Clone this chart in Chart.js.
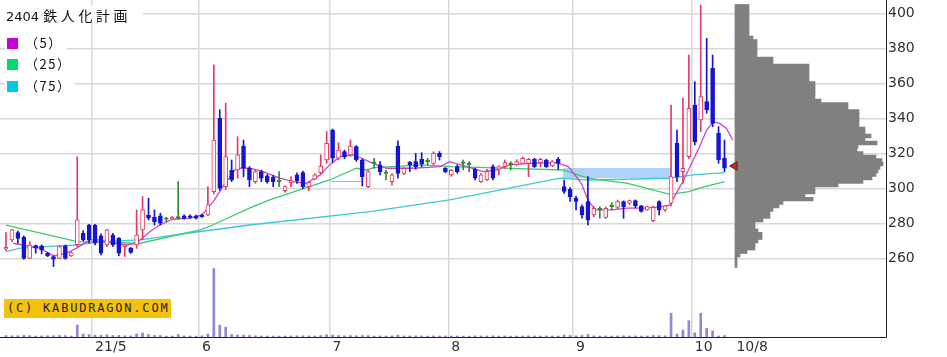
<!DOCTYPE html>
<html>
<head>
<meta charset="UTF-8" />
<script src="https://cdn.jsdelivr.net/npm/chart.js"></script>
<style>
  html, body { margin: 0; padding: 0; background: #fff; }
  #wrap { position: relative; width: 947px; height: 357px; }
  canvas { display: block; }
  .title { position: absolute; left: 0; top: 5px; width: 137px; height: 17px; padding-left: 6px;
           background: #fff; font: 13px 'DejaVu Sans', 'Noto Sans CJK JP', sans-serif; line-height: 17px; color: #111; }
  .title .jp { font: 14px 'Noto Sans CJK JP', sans-serif; letter-spacing: 3.6px; }
  .leg { position: absolute; left: 5px; height: 15px; padding: 0 3px 0 2px; background: #fff;
         font: 13px 'Noto Sans CJK JP', sans-serif; line-height: 15px; color: #111; letter-spacing: 1.5px; }
  .leg i { display: inline-block; width: 11px; height: 11px; vertical-align: -1px; margin-right: 7px; }
  .badge { position: absolute; left: 4px; top: 299px; height: 19px; padding: 0 2px 0 3px; background: #f4c20d;
           font: 12px 'DejaVu Sans Mono', monospace; letter-spacing: 1.8px; line-height: 19px; color: #222; }
</style>
</head>
<body>
<div id="wrap">
  <canvas id="chart" width="947" height="357"></canvas>
  <div class="title">2404 <span class="jp">鉄人化計画</span></div>
  <div class="leg" style="top:35px"><i style="background:#c800dc"></i>（5）</div>
  <div class="leg" style="top:56px"><i style="background:#00dc6e"></i>（25）</div>
  <div class="leg" style="top:78px"><i style="background:#00c8e6"></i>（75）</div>
  <div class="badge">(C) KABUDRAGON.COM</div>
</div>
<script>
// daily candles, 2021/4/9 .. 2021/10/8 (index = trading day)
const openP = [
  265.4, 270.7, 274.9, 272.2, 260.2, 267.5, 267.3, 263.1, 261.2, 260.2,
  267.3, 261.6, 268.0, 274.5, 279.2, 279.2, 273.0, 267.8, 273.5, 271.6,
  266.9, 265.9, 267.8, 276.4, 284.9, 283.6, 284.4, 282.5, 282.8, 283.1,
  284.4, 284.4, 284.4, 284.9, 285.0, 298.2, 340.1, 301.1, 310.6, 310.6,
  324.3, 311.6, 304.0, 309.7, 307.2, 306.6, 304.0, 298.8, 303.4, 307.8,
  309.1, 301.1, 305.3, 309.1, 316.3, 333.4, 317.3, 321.1, 319.2, 323.9,
  316.3, 301.1, 314.4, 313.5, 308.7, 304.0, 324.3, 308.7, 315.0, 315.4,
  316.7, 315.4, 314.4, 320.1, 311.6, 307.8, 312.5, 314.4, 313.5, 311.0,
  304.0, 304.9, 312.5, 311.0, 312.5, 313.5, 313.5, 314.4, 314.4, 316.7,
  314.8, 316.3, 312.9, 316.7, 301.1, 299.6, 294.5, 289.7, 292.6, 284.9,
  287.8, 283.6, 289.7, 289.3, 292.6, 291.6, 293.1, 290.1, 287.8, 281.7,
  292.6, 287.8, 291.6, 325.8, 309.7, 318.2, 347.7, 339.1, 349.6, 368.6,
  331.5, 317.3
];
const highP = [
  274.9, 276.8, 275.8, 273.0, 269.7, 267.8, 267.8, 263.5, 261.6, 267.3,
  267.8, 264.0, 318.2, 276.0, 279.6, 279.6, 274.1, 276.8, 274.5, 272.0,
  268.0, 266.5, 287.8, 295.4, 294.5, 287.8, 285.9, 283.6, 284.2, 304.0,
  285.0, 285.0, 284.9, 285.5, 301.0, 370.5, 345.0, 348.7, 316.3, 329.6,
  327.7, 312.5, 310.5, 310.5, 308.0, 307.5, 309.7, 301.5, 306.8, 309.0,
  310.0, 304.0, 308.5, 319.2, 332.5, 334.0, 326.2, 322.0, 327.7, 324.5,
  317.0, 310.5, 317.3, 315.4, 310.6, 308.5, 327.3, 312.0, 315.5, 320.1,
  320.5, 317.3, 321.0, 321.1, 312.0, 311.0, 313.5, 316.3, 315.4, 311.5,
  308.5, 311.0, 313.5, 313.0, 316.3, 315.4, 316.5, 318.0, 317.3, 317.3,
  317.3, 316.8, 316.0, 317.8, 304.9, 300.5, 295.5, 290.7, 306.8, 289.7,
  289.7, 289.5, 292.0, 293.5, 293.0, 293.5, 293.5, 290.5, 290.0, 290.0,
  293.0, 290.5, 347.7, 333.4, 351.5, 376.2, 361.0, 404.7, 385.7, 376.2,
  335.3, 327.7
];
const lowP = [
  264.6, 269.7, 268.8, 259.7, 260.0, 263.1, 262.7, 261.2, 255.5, 259.9,
  259.7, 261.2, 266.9, 270.0, 268.8, 267.8, 262.1, 266.9, 266.9, 261.6,
  261.2, 263.0, 265.9, 270.7, 282.1, 279.2, 279.2, 281.1, 282.5, 282.5,
  282.5, 283.0, 282.5, 283.5, 284.5, 297.0, 299.0, 299.5, 304.0, 305.9,
  306.8, 301.1, 303.0, 304.0, 303.0, 301.1, 301.1, 298.0, 301.1, 303.0,
  300.0, 298.8, 305.0, 308.5, 314.4, 315.0, 316.3, 317.0, 318.5, 315.5,
  301.5, 300.5, 311.6, 307.8, 304.9, 302.0, 305.9, 308.0, 309.7, 311.0,
  312.5, 313.5, 313.5, 316.3, 309.0, 307.0, 308.7, 310.6, 309.7, 305.0,
  303.5, 304.5, 305.0, 307.8, 311.6, 310.6, 313.0, 314.0, 306.8, 312.0,
  312.5, 312.0, 312.5, 311.0, 297.3, 292.6, 287.8, 283.1, 279.3, 284.0,
  283.1, 283.0, 287.8, 288.5, 283.0, 290.7, 289.0, 286.5, 287.5, 281.0,
  284.9, 287.0, 290.0, 304.0, 303.0, 317.0, 324.9, 332.5, 343.0, 335.3,
  314.4, 309.7
];
const closeP = [
  266.5, 276.4, 271.6, 260.2, 267.8, 266.0, 265.0, 261.6, 259.7, 266.9,
  260.2, 263.5, 282.1, 270.7, 270.7, 268.8, 263.1, 276.4, 267.8, 263.1,
  267.8, 263.5, 273.5, 287.8, 283.1, 281.1, 280.2, 282.5, 283.6, 283.1,
  283.1, 283.6, 283.1, 284.0, 290.7, 327.7, 300.2, 318.2, 304.9, 319.2,
  311.6, 304.9, 309.7, 305.9, 304.0, 304.0, 304.0, 301.1, 304.5, 304.5,
  301.1, 303.4, 307.8, 312.9, 325.8, 317.3, 322.0, 318.2, 324.3, 316.3,
  306.8, 309.7, 314.4, 309.7, 308.7, 307.8, 308.7, 311.6, 313.5, 312.5,
  314.0, 315.4, 320.1, 318.2, 309.7, 310.6, 309.7, 314.4, 313.5, 305.9,
  307.8, 309.7, 305.9, 312.5, 314.8, 313.5, 315.4, 317.3, 316.7, 312.5,
  316.7, 312.5, 315.4, 314.4, 298.3, 295.4, 292.6, 284.9, 282.1, 288.7,
  287.8, 288.7, 289.7, 292.6, 289.7, 293.1, 290.1, 286.9, 289.7, 289.3,
  287.8, 290.1, 306.8, 306.8, 311.6, 345.8, 326.8, 352.5, 344.9, 337.2,
  316.3, 311.6
];
const volume = [
  150, 120, 130, 160, 140, 100, 110, 120, 130, 150,
  140, 100, 1200, 300, 250, 200, 180, 220, 150, 160,
  120, 110, 300, 400, 250, 160, 140, 90, 100, 250,
  110, 100, 90, 120, 300, 6900, 1200, 1000, 250, 200,
  180, 150, 120, 110, 100, 100, 90, 100, 110, 120,
  130, 110, 100, 150, 220, 200, 150, 120, 140, 130,
  150, 140, 100, 110, 100, 120, 200, 110, 100, 120,
  110, 90, 120, 100, 110, 100, 100, 90, 90, 110,
  100, 110, 120, 100, 110, 90, 100, 110, 120, 100,
  100, 110, 100, 100, 200, 150, 120, 160, 250, 120,
  100, 110, 100, 110, 120, 100, 110, 100, 100, 150,
  130, 120, 2400, 300, 700, 1650, 430, 2400, 870, 600,
  100, 150
];

// moving averages (trading-day index, price)
const ma5Idx = [1.2, 5.7, 8, 10.2, 11.9, 14.1, 15.8, 18, 20.3, 22, 24.2, 25.9, 28.1, 31, 33, 35, 36.5, 38.8,
  41.1, 43.3, 46.1, 48.4, 50.6, 52.9, 54.5, 56.2, 58.5, 59.9, 61.8, 64.1, 66.3, 68.5, 73.1, 74.7, 77.6,
  80.3, 82.6, 84.8, 88.2, 92.7, 94.7, 96.9, 98, 99.2, 102, 104.7, 107.6, 110.4, 111.8, 114, 115.2, 116.8,
  118, 119.1, 120.2, 121.3, 122.4];
const ma5Val = [268.8, 266, 261.6, 263.1, 266, 270.7, 270.7, 268.8, 267.8, 268.8, 275.4, 279.2, 282.5, 283.1, 285, 293, 301.1, 311.6,
  311.6, 309.7, 305.9, 304, 303, 307.8, 313.5, 318.2, 319.2, 317.3, 314.4, 311.6, 311.6, 311.6, 312.5, 315.4, 312.5,
  309.7, 310.6, 313.5, 314.4, 314.8, 312.5, 303, 293.5, 287.8, 287.8, 288.8, 288.8, 289.7, 290.7, 304, 312.5, 323.9,
  333.4, 338.2, 337.2, 334.4, 327.7];
const ma25Idx = [0, 12, 22.6, 32.7, 34.8, 41, 44.4, 54.5, 59, 60.7, 62, 70, 75, 85, 93.8, 98, 104.7, 111.8, 115, 117.7, 121];
const ma25Val = [279.2, 269.7, 268.8, 276.4, 279.2, 288.8, 293.5, 304.9, 311.6, 310.6, 312, 313.5, 312.5, 311.5, 310.6, 305.9, 303, 296.7, 298.2, 301.1, 304];
const ma75Idx = [0, 2.4, 9, 12, 15.8, 22.6, 30.5, 41, 61.3, 74.7, 93.3, 98, 111.8, 115.7, 121];
const ma75Val = [264, 266, 267.3, 267.8, 269.7, 270.7, 274.5, 279.2, 286.9, 293.5, 305.9, 304.9, 305.9, 307.8, 309.1];

// open price gap (window) and pink level line
const windowIdx = [93.8, 112];
const windowTop = 311.8;
const windowBottom = 306.1;
const levelIdx = [54.8, 59.8];
const levelVal = 304;
const markerIdx = 122.7;
const lastPrice = 312.9;

// volume-by-price profile
const profilePrice = [404, 402, 400, 398, 396, 394, 392, 390, 388, 386, 384, 382, 380, 378, 376, 374, 372, 370, 368, 366,
  364, 362, 360, 358, 356, 354, 352, 350, 348, 346, 344, 342, 340, 338, 336, 334, 332, 330, 328, 326,
  324, 322, 320, 318, 316, 314, 312, 310, 308, 306, 304, 302, 300, 298, 296, 294, 292, 290, 288, 286,
  284, 282, 280, 278, 276, 274, 272, 270, 268, 266, 264, 262, 260, 258, 256];
const profileVol = [14, 14, 14, 14, 14, 14, 14, 14, 14, 18, 22, 22, 22, 22, 22, 38, 38, 74, 74, 74,
  74, 74, 80, 80, 80, 80, 80, 86, 113, 113, 124, 124, 124, 124, 124, 130, 130, 136, 130, 142,
  123, 122, 128, 141, 147, 148, 145, 143, 141, 137, 128, 103, 80, 80, 70, 78, 48, 44, 38, 35,
  35, 28, 20, 20, 23, 27, 27, 23, 20, 20, 12, 5, 2, 2, 2];

// axis ticks
const tickPos = [14.5, 32.5, 54.5, 74.5, 95.5, 115.5, 122.5];
const tickText = ['21/5', '6', '7', '8', '9', '10', '10/8'];
const priceTicks = [260, 280, 300, 320, 340, 360, 380, 400];

const UP = '#e23c64', DOWN = '#1414d2', FLAT = '#2e8b2e';
const dir = closeP.map((c, i) => c > openP[i] ? UP : c < openP[i] ? DOWN : FLAT);
const pts = (xs, ys) => xs.map((x, i) => ({ x, y: Array.isArray(ys) ? ys[i] : ys }));

const ctx = document.getElementById('chart').getContext('2d');
new Chart(ctx, {
  type: 'bar',
  data: {
    datasets: [
      { type: 'line', data: pts(windowIdx, windowTop), borderWidth: 0, pointRadius: 0,
        fill: '+1', backgroundColor: 'rgba(140,190,245,0.7)', order: 30 },
      { type: 'line', data: pts(windowIdx, windowBottom), borderWidth: 0, pointRadius: 0,
        fill: false, order: 30 },
      { data: volume.map((v, i) => ({ x: i, y: v })), yAxisID: 'yv', backgroundColor: '#8a8ad6',
        barThickness: 2, grouped: false, order: 25 },
      { indexAxis: 'y', xAxisID: 'xp', yAxisID: 'y',
        data: profilePrice.map((p, i) => ({ x: profileVol[i], y: p })),
        backgroundColor: '#808080', barThickness: 3.7, grouped: false, order: 24 },
      { type: 'line', data: pts(ma75Idx, ma75Val), borderColor: '#3cc8dc', borderWidth: 1.3, pointRadius: 0, order: 20 },
      { type: 'line', data: pts(ma25Idx, ma25Val), borderColor: '#3ccc6c', borderWidth: 1.3, pointRadius: 0, order: 19 },
      { type: 'line', data: pts(ma5Idx, ma5Val), borderColor: '#cc44cc', borderWidth: 1.3, pointRadius: 0, order: 18 },
      { type: 'line', data: pts(levelIdx, levelVal), borderColor: '#f08cb0', borderWidth: 1, pointRadius: 0, order: 17 },
      { data: lowP.map((l, i) => ({ x: i, y: [l, highP[i]] })), backgroundColor: dir,
        barThickness: 1, grouped: false, order: 6 },
      { data: openP.map((o, i) => ({ x: i, y: [o, closeP[i]] })),
        backgroundColor: dir.map(c => c === UP ? '#ffffff' : c), borderColor: dir,
        borderWidth: 1, borderSkipped: false, minBarLength: 1.5,
        barThickness: 4, grouped: false, order: 5 },
      { type: 'line', data: [{ x: markerIdx, y: lastPrice }], showLine: false,
        pointStyle: 'triangle', pointRotation: -90, pointRadius: 5,
        pointBackgroundColor: '#e41b1b', pointBorderColor: '#333', pointBorderWidth: 1, order: 1 }
    ]
  },
  options: {
    responsive: false,
    animation: false,
    layout: { padding: 0, autoPadding: false },
    plugins: { legend: { display: false }, tooltip: { enabled: false } },
    scales: {
      x: {
        type: 'linear', position: 'bottom', min: -1.01, max: 148.2, offset: false,
        afterBuildTicks: s => { s.ticks = tickPos.map(v => ({ value: v })); },
        afterFit: s => { s.height = 20; s.paddingLeft = 0; s.paddingRight = 0; },
        grid: { offset: false, drawTicks: false, lineWidth: 1.5,
                color: c => (c.tick && c.tick.value === 122.5) ? 'rgba(0,0,0,0)' : '#d8d8d8' },
        border: { color: '#222', width: 1 },
        ticks: { align: 'start', padding: 2, labelOffset: 3, autoSkip: false, maxRotation: 0, color: '#333',
                 font: { family: 'DejaVu Sans', size: 14 },
                 callback: v => tickText[tickPos.indexOf(v)] }
      },
      y: {
        type: 'linear', position: 'right', min: 215.3, max: 407.6, offset: false,
        afterBuildTicks: s => { s.ticks = priceTicks.map(v => ({ value: v })); },
        afterFit: s => { s.width = 61; s.paddingTop = 0; s.paddingBottom = 0; },
        grid: { offset: false, color: '#d8d8d8', lineWidth: 1.5, drawTicks: false },
        border: { color: '#222', width: 1 },
        ticks: { padding: 2, color: '#333', font: { family: 'DejaVu Sans', size: 14 } }
      },
      yv: { type: 'linear', display: false, min: 0, max: 34000, offset: false },
      xp: { type: 'linear', display: false, min: -735, max: 151, offset: false, grid: { offset: false } }
    }
  }
});
</script>
</body>
</html>
